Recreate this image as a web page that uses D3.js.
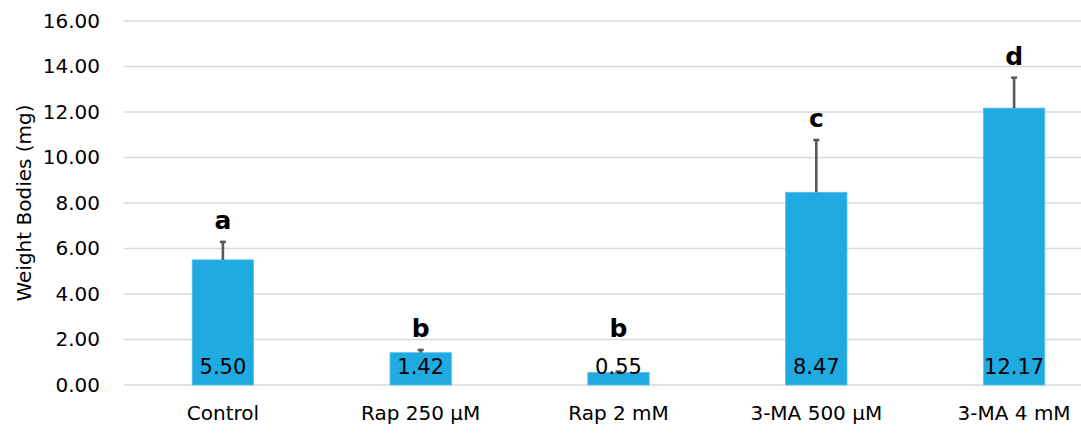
<!DOCTYPE html>
<html>
<head>
<meta charset="utf-8">
<script src="https://cdn.jsdelivr.net/npm/d3@7"></script>
<style>
  html, body { margin: 0; padding: 0; background: #ffffff; }
  svg { display: block; }
  text { font-family: "DejaVu Sans", sans-serif; fill: #000; }
</style>
</head>
<body>
<svg id="chart" width="1081" height="433"></svg>
<script>
// Body weight per treatment (mg), with standard error and significance groups
const categories = ["Control", "Rap 250 µM", "Rap 2 mM", "3-MA 500 µM", "3-MA 4 mM"];
const weights = [5.50, 1.42, 0.55, 8.47, 12.17];
const errors = [0.79, 0.12, 0.04, 2.30, 1.34];
const groups = ["a", "b", "b", "c", "d"];
const yTicks = [0, 2, 4, 6, 8, 10, 12, 14, 16];

const svg = d3.select("#chart");
const margin = { left: 124, right: -32, top: 21, bottom: 48 };
const W = 1081, H = 433;

const x = d3.scaleBand()
  .domain(categories)
  .range([margin.left, W - margin.right])
  .paddingInner(0.69)
  .paddingOuter(0.345);

const y = d3.scaleLinear()
  .domain([0, 16])
  .range([H - margin.bottom, margin.top]);

// horizontal gridlines
svg.append("g")
  .selectAll("line")
  .data(yTicks)
  .join("line")
  .attr("x1", margin.left)
  .attr("x2", W)
  .attr("y1", d => y(d))
  .attr("y2", d => y(d))
  .attr("stroke", "#d9d9d9")
  .attr("stroke-width", 1.5);

// y axis labels
const yAxis = d3.axisLeft(y)
  .tickValues(yTicks)
  .tickFormat(d3.format(".2f"))
  .tickSize(0)
  .tickPadding(0);
svg.append("g")
  .attr("transform", `translate(100,0)`)
  .call(yAxis)
  .call(g => g.select(".domain").remove())
  .call(g => g.selectAll("text")
    .attr("font-family", "DejaVu Sans, sans-serif")
    .attr("font-size", 20)
    .attr("fill", "#000"));

// y axis title
svg.append("text")
  .attr("transform", `translate(25,${(y(0) + y(16)) / 2}) rotate(-90)`)
  .attr("text-anchor", "middle")
  .attr("dominant-baseline", "middle")
  .attr("font-size", 20)
  .text("Weight Bodies (mg)");

// x axis labels
const xAxis = d3.axisBottom(x).tickSize(0).tickPadding(0);
svg.append("g")
  .attr("transform", `translate(0,${y(0)})`)
  .call(xAxis)
  .call(g => g.select(".domain").remove())
  .call(g => g.selectAll("text")
    .attr("font-family", "DejaVu Sans, sans-serif")
    .attr("font-size", 20)
    .attr("fill", "#000")
    .attr("dy", null)
    .attr("y", 35));

const data = categories.map((c, i) => ({ c, v: weights[i], e: errors[i], g: groups[i] }));

// bars
svg.append("g")
  .selectAll("rect")
  .data(data)
  .join("rect")
  .attr("x", d => x(d.c))
  .attr("width", x.bandwidth())
  .attr("y", d => y(d.v))
  .attr("height", d => y(0) - y(d.v))
  .attr("fill", "#1faae2")
  .attr("stroke", "#4fc0ec")
  .attr("stroke-width", 0.8);

// error bars (upper only)
const eb = svg.append("g")
  .attr("stroke", "#595959")
  .attr("stroke-width", 2.6);
eb.selectAll("line.stem")
  .data(data)
  .join("line")
  .attr("class", "stem")
  .attr("x1", d => x(d.c) + x.bandwidth() / 2)
  .attr("x2", d => x(d.c) + x.bandwidth() / 2)
  .attr("y1", d => y(d.v))
  .attr("y2", d => y(d.v + d.e));
eb.selectAll("line.cap")
  .data(data)
  .join("line")
  .attr("class", "cap")
  .attr("x1", d => x(d.c) + x.bandwidth() / 2 - 3)
  .attr("x2", d => x(d.c) + x.bandwidth() / 2 + 3)
  .attr("y1", d => y(d.v + d.e))
  .attr("y2", d => y(d.v + d.e));

// value labels at bar base
svg.append("g")
  .selectAll("text")
  .data(data)
  .join("text")
  .attr("x", d => x(d.c) + x.bandwidth() / 2)
  .attr("y", y(0) - 11)
  .attr("text-anchor", "middle")
  .attr("font-size", 21)
  .text(d => d.v.toFixed(2));

// significance letters
svg.append("g")
  .selectAll("text")
  .data(data)
  .join("text")
  .attr("x", d => x(d.c) + x.bandwidth() / 2)
  .attr("y", d => y(Math.max(d.v + d.e, 1.54)) - 13)
  .attr("text-anchor", "middle")
  .attr("font-size", 25)
  .attr("font-weight", "bold")
  .text(d => d.g);
</script>
</body>
</html>
